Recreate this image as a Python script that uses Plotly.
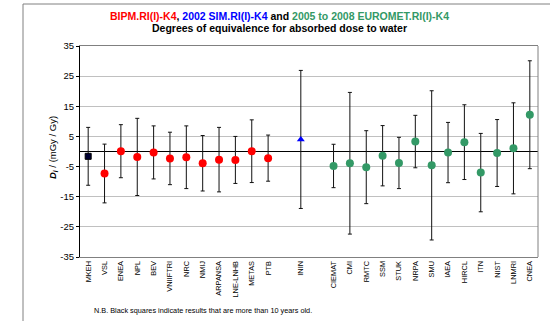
import plotly.graph_objects as go

# ---- data ----
institutes = ["MKEH", "VSL", "ENEA", "NPL", "BEV", "VNIIFTRI", "NRC", "NMIJ", "ARPANSA",
              "LNE-LNHB", "METAS", "PTB", "ININ", "CIEMAT", "CMI", "RMTC", "SSM", "STUK",
              "NRPA", "SMU", "IAEA", "HIRCL", "ITN", "NIST", "LNMRI", "CNEA"]
di_values = [-1.6, -7.3, 0.1, -1.8, -0.3, -2.3, -1.9, -3.9, -2.7, -2.8, 0.1, -2.2,
             4.0, -4.8, -3.9, -5.2, -1.4, -3.8, 3.3, -4.6, -0.35, 3.1, -7.0, -0.5, 1.05, 12.2]
uncert = [9.6, 9.75, 8.8, 12.8, 8.8, 8.7, 10.4, 9.2, 10.7, 7.8, 10.4, 7.65,
          22.9, 7.2, 23.5, 12.1, 10.0, 8.5, 8.7, 24.75, 10.0, 12.4, 13.0, 11.1, 15.1, 17.9]
groups = ["old"] + ["BIPM"] * 11 + ["SIM"] + ["EUROMET"] * 13

# category order including empty spacer slots (None)
category_order = institutes[:12] + [None] + ["ININ"] + [None] + institutes[13:]
y_ticks = [35, 25, 15, 5, -5, -15, -25, -35]
y_tick_text = [str(v) for v in y_ticks]

styles = {
    "old": dict(color="#000033", symbol="square", size=6, line=dict(color="black", width=1)),
    "BIPM": dict(color="#ff0000", symbol="circle", size=8),
    "SIM": dict(color="#0000ff", symbol="triangle-up", size=7),
    "EUROMET": dict(color="#339966", symbol="circle", size=8),
}

FONT = "Liberation Sans, Arial, sans-serif"

slot = {name: i for i, name in enumerate(category_order) if name is not None}

fig = go.Figure()
for g in ["BIPM", "SIM", "EUROMET", "old"]:
    idx = [i for i in range(len(institutes)) if groups[i] == g]
    fig.add_trace(go.Scatter(
        x=[slot[institutes[i]] for i in idx],
        y=[di_values[i] for i in idx],
        mode="markers",
        marker=styles[g],
        error_y=dict(type="data", array=[uncert[i] for i in idx], visible=True,
                     color="#111111", thickness=1, width=2),
        showlegend=False,
        hovertext=[institutes[i] for i in idx],
    ))

L, R, T, B = 80, 12, 46, 64
W, H = 550, 321
pw, ph = W - L - R, H - T - B


def px(x):
    return (x - L) / pw


def py(y):
    return (H - B - y) / ph


fig.update_layout(
    width=W, height=H,
    margin=dict(l=L, r=R, t=T, b=B),
    paper_bgcolor="white", plot_bgcolor="white",
    font=dict(family=FONT, color="black"),
    xaxis=dict(
        range=[-0.5, len(category_order) - 0.5],
        tickvals=list(slot.values()), ticktext=list(slot.keys()),
        tickangle=-90, tickfont=dict(size=7.4, family=FONT),
        showgrid=False, zeroline=False, showline=True, linecolor="#808080",
        linewidth=1, mirror=True, ticks="",
    ),
    yaxis=dict(
        range=[-35, 35], tickvals=y_ticks, ticktext=y_tick_text,
        tickfont=dict(size=9.5, family=FONT),
        showgrid=True, gridcolor="#c0c0c0", gridwidth=1,
        zeroline=True, zerolinecolor="black", zerolinewidth=1,
        showline=True, linecolor="black", linewidth=1,
        ticks="outside", ticklen=3, tickcolor="black",
    ),
    shapes=[
        dict(type="line", xref="paper", yref="paper", x0=1, x1=1, y0=0, y1=1,
             line=dict(color="#808080", width=1)),
        dict(type="line", xref="paper", yref="paper", x0=px(23), x1=px(23),
             y0=py(4), y1=py(H + 5), line=dict(color="#808080", width=1)),
        dict(type="line", xref="paper", yref="paper", x0=px(23), x1=px(W + 5),
             y0=py(4), y1=py(4), line=dict(color="#808080", width=1)),
    ],
    annotations=[
        dict(xref="paper", yref="paper", x=px(279), y=py(16.3), xanchor="center", yanchor="middle",
             showarrow=False, font=dict(size=10.5, family=FONT),
             text="<b><span style='color:#ff0000'>BIPM.RI(I)-K4</span>, "
                  "<span style='color:#0000ff'>2002 SIM.RI(I)-K4</span> and "
                  "<span style='color:#339966'>2005 to 2008 EUROMET.RI(I)-K4</span></b>"),
        dict(xref="paper", yref="paper", x=px(279), y=py(28.3), xanchor="center", yanchor="middle",
             showarrow=False, font=dict(size=10.5, family=FONT),
             text="<b>Degrees of equivalence for absorbed dose to water</b>"),
        dict(xref="paper", yref="paper", x=px(52.3), y=py(147.7), xanchor="center", yanchor="middle",
             showarrow=False, textangle=-90, font=dict(size=9.5, family=FONT),
             text="<b><i>D</i></b><sub><b><i>i</i></b></sub> / (mGy / Gy)"),
        dict(xref="paper", yref="paper", x=px(91.7), y=py(310), xanchor="left", yanchor="middle",
             showarrow=False, font=dict(size=7.3, family=FONT),
             text="N.B. Black squares indicate results that are more than 10 years old."),
    ],
)

fig.write_html("out.html")
